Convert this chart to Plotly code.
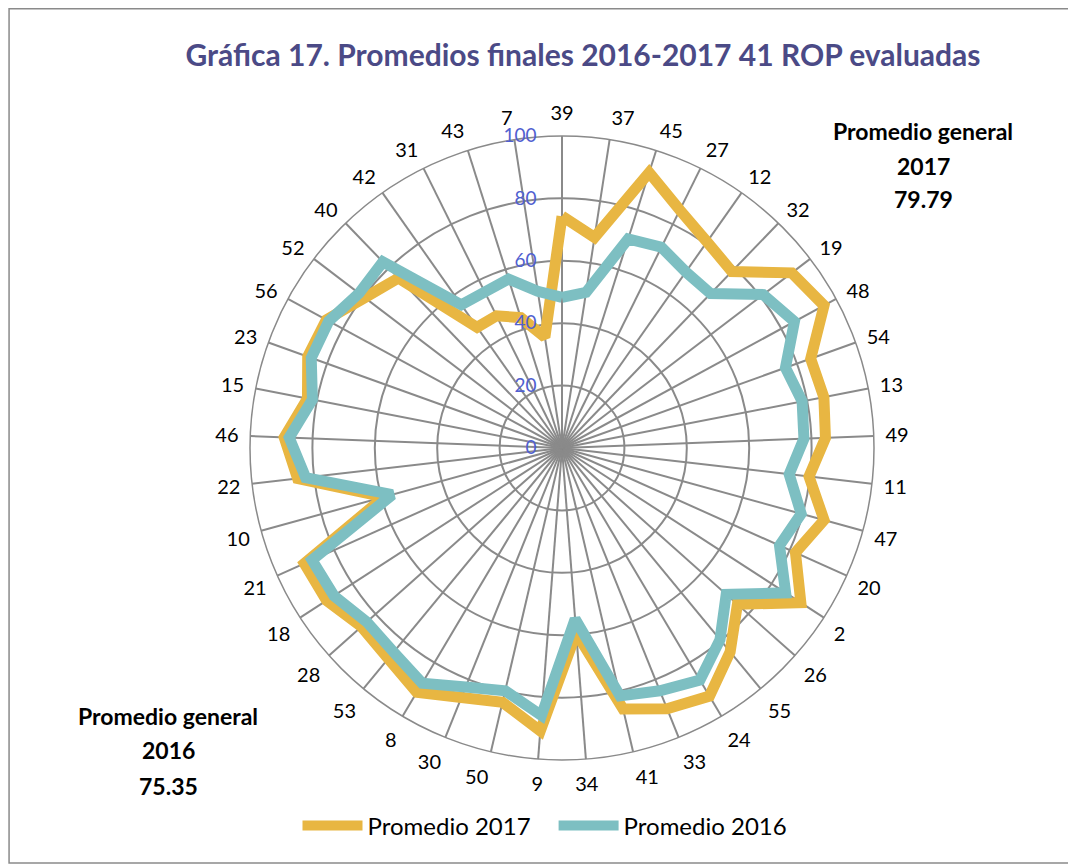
import plotly.graph_objects as go

categories = ["39", "37", "45", "27", "12", "32", "19", "48", "54", "13", "49", "11", "47", "20",
              "2", "26", "55", "24", "33", "41", "34", "9", "50", "30", "8", "53", "28", "18",
              "21", "10", "22", "46", "15", "23", "56", "52", "40", "42", "31", "43", "7"]

promedio_2017 = [74.3, 68.3, 92.6, 85.1, 80.8, 78.5, 92.6, 95.6, 84.7, 85.5, 84.5, 79.7, 87.1, 82.0,
                 91.2, 75.3, 84.7, 92.5, 90.1, 85.9, 59.4, 90.9, 83.7, 86.2, 91.1, 87.5, 86.1, 89.9,
                 90.5, 59.1, 85.3, 89.1, 83.1, 86.6, 86.0, 79.5, 75.6, 47.3, 47.3, 43.8, 35.9]

promedio_2016 = [48.3, 50.5, 70.3, 71.8, 69.0, 68.7, 81.1, 84.8, 76.1, 78.4, 77.6, 73.3, 79.5, 76.4,
                 85.4, 70.5, 79.6, 86.5, 83.9, 81.6, 55.0, 86.0, 79.9, 82.6, 87.7, 84.8, 83.8, 87.1,
                 87.8, 56.4, 82.7, 87.5, 81.5, 85.4, 85.1, 81.8, 82.8, 56.1, 55.8, 56.8, 50.8]

radial_ticks = [0, 20, 40, 60, 80, 100]

FONT = "Lato"
GOLD = "#E8B642"
TEAL = "#7DBFC2"
GRID = "#8a8a8a"

fig = go.Figure()
fig.add_trace(go.Scatterpolar(
    r=promedio_2017 + promedio_2017[:1], theta=categories + categories[:1],
    mode="lines", name="Promedio 2017\u2003",
    line=dict(color=GOLD, width=11),
))
fig.add_trace(go.Scatterpolar(
    r=promedio_2016 + promedio_2016[:1], theta=categories + categories[:1],
    mode="lines", name="Promedio 2016",
    line=dict(color=TEAL, width=11),
))

# page has an 8px body margin: figure coords = reference coords - 8
OFF = 8
W, H = 1068, 859
cx, cy, R = 562 - OFF, 448 - OFF, 312


def px(x):
    return (x - OFF) / W


def py(y):
    return 1 - (y - OFF) / H


ann_font = dict(size=23, color="black", family=FONT)
annotations = []
for txt, x, y in [("Promedio general", 923, 131), ("2017", 923, 166), ("79.79", 923, 199),
                  ("Promedio general", 168, 716), ("2016", 168, 750), ("75.35", 168, 786)]:
    annotations.append(dict(text="<b>" + txt + "</b>", x=px(x), y=py(y), xref="paper", yref="paper",
                            xanchor="center", yanchor="middle", showarrow=False, font=ann_font))

# tick labels pushed left of the axis by an invisible padding
radial_ticktext = [str(v) + "<span style='color:rgba(0,0,0,0)'>00</span>" for v in radial_ticks]

fig.update_layout(
    width=W, height=H,
    margin=dict(l=0, r=0, t=0, b=0),
    paper_bgcolor="white",
    font=dict(family=FONT, color="black"),
    title=dict(text="<b>Gráfica 17. Promedios finales 2016-2017 41 ROP evaluadas</b>",
               x=px(583), xanchor="center", y=py(55), yanchor="middle",
               font=dict(family=FONT, size=30, color="#4B4A86")),
    polar=dict(
        domain=dict(x=[(cx - R) / W, (cx + R) / W], y=[(H - cy - R) / H, (H - cy + R) / H]),
        bgcolor="white",
        angularaxis=dict(
            direction="clockwise", rotation=90, type="category",
            categoryorder="array", categoryarray=categories,
            showgrid=True, gridcolor=GRID, gridwidth=1.5,
            showline=True, linecolor=GRID, linewidth=1.5,
            ticks="outside", ticklen=7, tickcolor="rgba(0,0,0,0)",
            tickfont=dict(size=20, color="black", family=FONT),
        ),
        radialaxis=dict(
            range=[0, 100], tickvals=radial_ticks, ticktext=radial_ticktext,
            angle=90, tickangle=90, side="counterclockwise",
            showgrid=True, gridcolor=GRID, gridwidth=1.5,
            showline=False, ticks="",
            tickfont=dict(size=19, color="#5060D0", family=FONT),
        ),
    ),
    showlegend=True,
    legend=dict(orientation="h", x=px(545), xanchor="center", y=py(826), yanchor="middle",
                font=dict(size=24, color="black", family=FONT), itemwidth=60),
    shapes=[dict(type="rect", xref="paper", yref="paper", x0=0.001, x1=px(1072),
                 y0=py(863), y1=0.999, line=dict(color="#8a8a8a", width=1.5))],
    annotations=annotations,
)

fig.write_html("out.html")
